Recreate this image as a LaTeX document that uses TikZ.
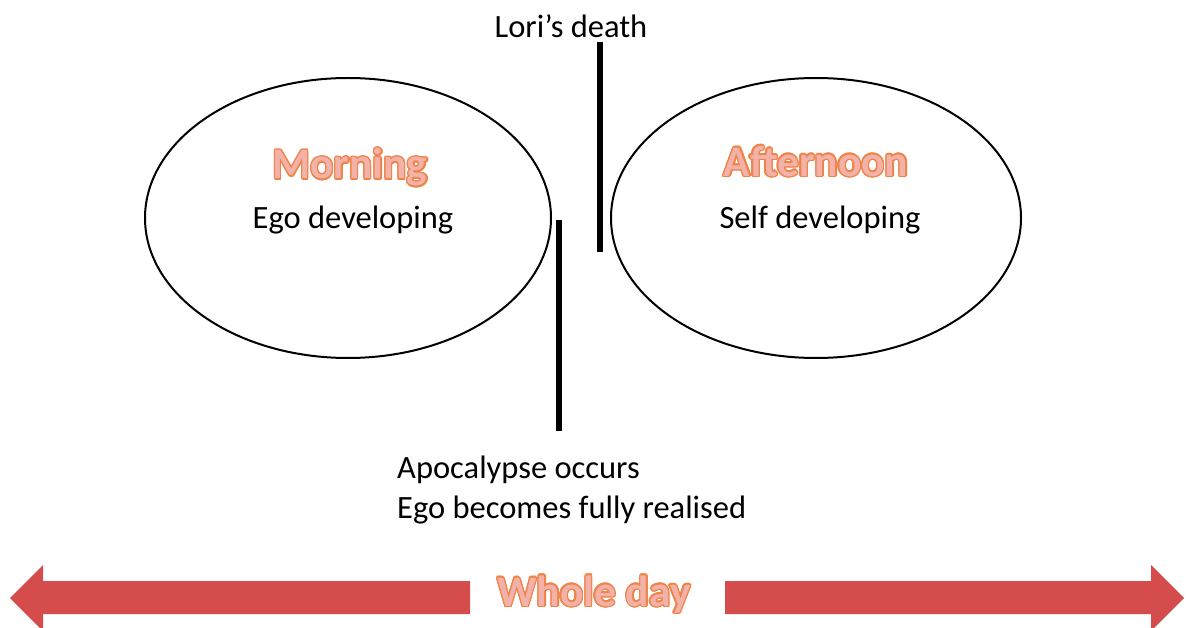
\documentclass[tikz,border=0pt]{standalone}
\usepackage{fontspec}
\setmainfont{Carlito}
\usepackage{contour}
\contournumber{16}
\definecolor{arrowred}{RGB}{212,76,76}
\definecolor{titlefill}{RGB}{242,178,170}
\definecolor{titleline}{RGB}{240,132,72}
\tikzset{
  marker/.style={line width=6pt},
  body/.style={font=\fontsize{32.5}{39}\selectfont, inner sep=0pt},
  heading/.style={font=\fontsize{43.5}{50}\selectfont\bfseries, inner sep=0pt},
}
\newcommand{\outlined}[1]{\contourlength{1.4pt}\contour{titleline}{\textcolor{titlefill}{#1}}}
\begin{document}
\begin{tikzpicture}[x=1pt,y=-1pt]
\useasboundingbox (0,0) rectangle (1186,628);
% the two halves of the day
\draw[line width=2pt] (348,218) ellipse [x radius=203, y radius=140];
\draw[line width=2pt] (816,218) ellipse [x radius=205, y radius=140];
\node[heading] (morning) at (350,168) {\outlined{Morning}};
\node[body] (ego) at (353,220) {Ego developing};
\node[heading] (afternoon) at (816,162) {\outlined{Afternoon}};
\node[body] (self) at (820,220) {Self developing};
% turning points
\coordinate (lorTop) at (600,42);
\coordinate (lorBot) at (600,252);
\draw[marker] (lorTop) -- (lorBot);
\node[body] (lori) at (571,26) {Lori’s death};
\coordinate (apoTop) at (559,220);
\coordinate (apoBot) at (559,431);
\draw[marker] (apoTop) -- (apoBot);
\node[body, anchor=west] (apo) at (397,470) {Apocalypse occurs};
\node[body, anchor=west] (egofull) at (397,510) {Ego becomes fully realised};
% whole-day span
\fill[arrowred] (470,581) -- (43,581) -- (43,565) -- (10,598) -- (43,631) -- (43,614) -- (470,614) -- cycle;
\fill[arrowred] (725,581) -- (1151,581) -- (1151,565) -- (1184,598) -- (1151,631) -- (1151,614) -- (725,614) -- cycle;
\node[heading] (whole) at (594,595) {\outlined{Whole day}};
\end{tikzpicture}
\end{document}
